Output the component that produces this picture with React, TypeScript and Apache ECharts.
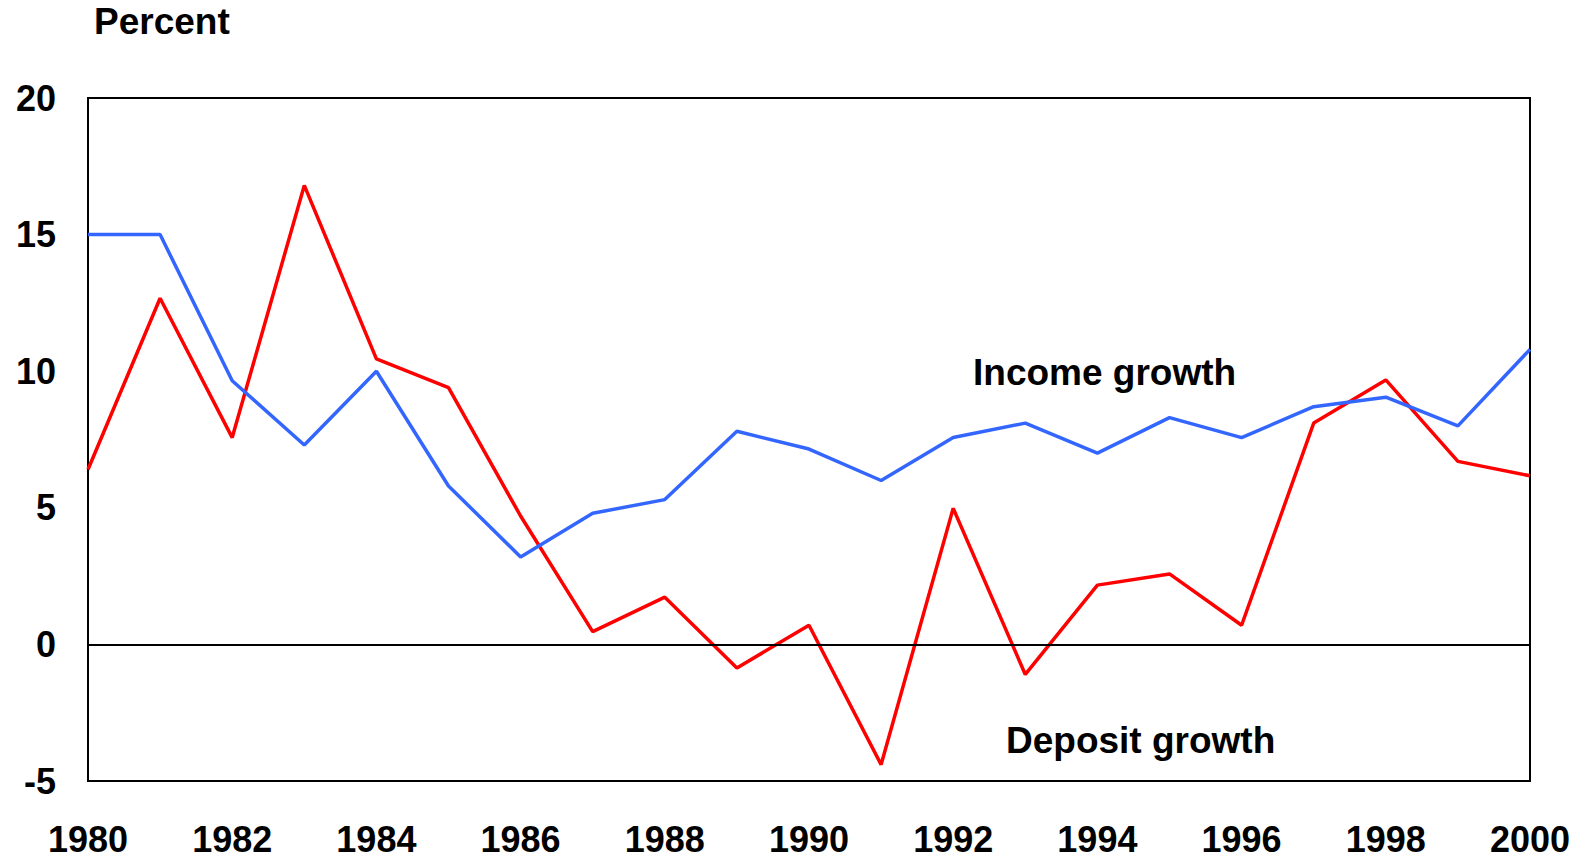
import React, { useEffect, useRef } from "react";
import * as echarts from "echarts";

const years = ["1980","1981","1982","1983","1984","1985","1986","1987","1988","1989","1990","1991","1992","1993","1994","1995","1996","1997","1998","1999","2000"];
const incomeGrowth = [15.0, 15.0, 9.65, 7.3, 10.0, 5.8, 3.2, 4.8, 5.3, 7.8, 7.15, 6.0, 7.57, 8.1, 7.0, 8.3, 7.57, 8.7, 9.05, 8.0, 10.8];
const depositGrowth = [6.4, 12.67, 7.57, 16.8, 10.45, 9.4, 4.7, 0.47, 1.73, -0.86, 0.7, -4.4, 4.98, -1.1, 2.17, 2.58, 0.7, 8.1, 9.68, 6.7, 6.17];
const yTicks = { min: -5, max: 20, interval: 5 };

const FONT = "'Liberation Sans', Arial, sans-serif";

export default function App() {
  const ref = useRef<HTMLDivElement>(null);
  useEffect(() => {
    document.body.style.margin = "0";
    if (!ref.current) return;
    const chart = echarts.init(ref.current, null, { renderer: "svg" });
    chart.setOption({
      animation: false,
      backgroundColor: "#ffffff",
      grid: {
        left: 88,
        top: 98,
        width: 1442,
        height: 683,
        show: true,
        borderColor: "#000000",
        borderWidth: 2,
        backgroundColor: "transparent",
      },
      xAxis: {
        type: "category",
        data: years,
        boundaryGap: false,
        axisLine: { show: false },
        axisTick: { show: false },
        splitLine: { show: false },
        axisLabel: {
          interval: 1,
          margin: 40,
          color: "#000",
          fontFamily: FONT,
          fontWeight: "bold",
          fontSize: 36,
        },
      },
      yAxis: {
        type: "value",
        min: yTicks.min,
        max: yTicks.max,
        interval: yTicks.interval,
        axisLine: { show: false },
        axisTick: { show: false },
        splitLine: { show: false },
        axisLabel: {
          margin: 32,
          color: "#000",
          fontFamily: FONT,
          fontWeight: "bold",
          fontSize: 36,
        },
      },
      series: [
        {
          name: "Income growth",
          type: "line",
          data: incomeGrowth,
          showSymbol: false,
          lineStyle: { color: "#3366FF", width: 3.5 },
          itemStyle: { color: "#3366FF" },
          z: 3,
          markLine: {
            silent: true,
            symbol: ["none", "none"],
            label: { show: false },
            lineStyle: { color: "#000", width: 2, type: "solid" },
            data: [{ yAxis: 0 }],
          },
        },
        {
          name: "Deposit growth",
          type: "line",
          data: depositGrowth,
          showSymbol: false,
          lineStyle: { color: "#FF0000", width: 3.5 },
          itemStyle: { color: "#FF0000" },
          z: 2,
        },
      ],
      graphic: [
        {
          type: "text",
          left: 94,
          top: 3,
          style: { text: "Percent", fill: "#000", font: `bold 37px ${FONT}` },
        },
        {
          type: "text",
          left: 973,
          top: 354,
          style: { text: "Income growth", fill: "#000", font: `bold 37px ${FONT}` },
        },
        {
          type: "text",
          left: 1006,
          top: 722,
          style: { text: "Deposit growth", fill: "#000", font: `bold 37px ${FONT}` },
        },
      ],
    });
    return () => chart.dispose();
  }, []);
  return <div ref={ref} style={{ width: 1585, height: 860 }} />;
}
